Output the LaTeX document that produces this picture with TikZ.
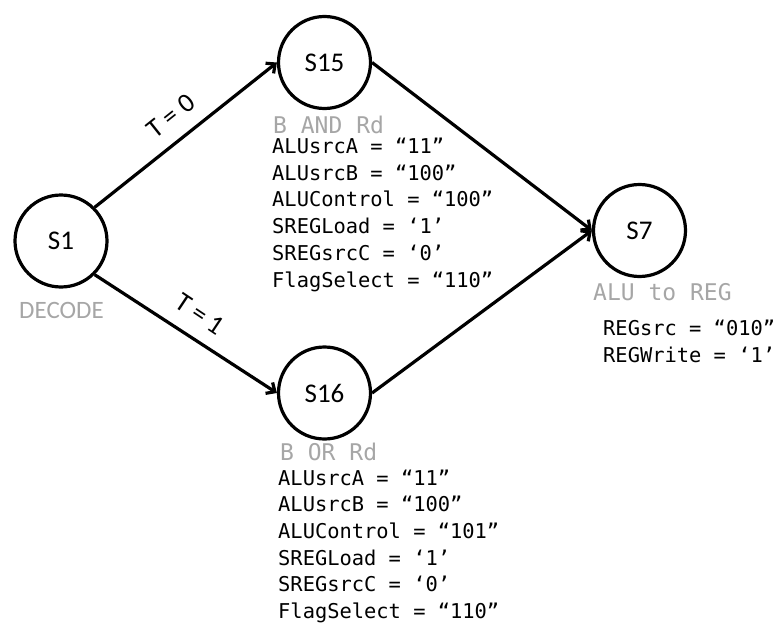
\documentclass[tikz,border=0pt]{standalone}
\usepackage{fontspec}
\setmainfont{Carlito}
\newfontfamily\monof{DejaVu Sans Mono}
\usetikzlibrary{arrows.meta}
\definecolor{lblgray}{HTML}{A6A6A6}
\begin{document}
\begin{tikzpicture}[x=1pt,y=-1pt,
  state/.style={circle,draw,line width=3.2pt,minimum size=92pt,inner sep=0pt,font=\fontsize{27}{27}\selectfont},
  conn/.style={line width=3.2pt,-{Straight Barb[length=7pt,width=13pt]}},
  codeline/.style={anchor=base west,inner sep=0pt,font=\monof\fontsize{20.4}{24}\selectfont},
  graylbl/.style={anchor=base west,inner sep=0pt,text=lblgray,font=\monof\fontsize{23}{26}\selectfont},
  edgelbl/.style={inner sep=0pt,anchor=center,font=\fontsize{27}{27}\selectfont}]
\useasboundingbox (0,0) rectangle (779,626);

\node[state] (s1) at (61,241) {S1};
\node[state] (s15) at (324.5,62.5) {S15};
\node[state] (s16) at (324.5,393) {S16};
\node[state] (s7) at (639.5,230.5) {S7};

\draw[conn] (s1.north east) -- (s15.west);
\draw[conn] (s1.south east) -- (s16.west);
\draw[conn] (s15.east) -- (s7.west);
\draw[conn] (s16.east) -- (s7.west);

\node[edgelbl,rotate=38.5] (l0) at (171,116) {T = 0};
\node[edgelbl,rotate=-33.7] (l1) at (200,314) {T = 1};

\node[anchor=base west,inner sep=0pt,text=lblgray,font=\fontsize{25}{25}\selectfont] (dec) at (19,318) {DECODE};
\node[graylbl] (g15) at (273,133.5) {B AND Rd};
\node[graylbl] (g16) at (280,460) {B OR Rd};
\node[graylbl] (g7) at (593,300) {ALU to REG};

\foreach \t [count=\i from 0] in {ALUsrcA = “11”, ALUsrcB = “100”, ALUControl = “100”, SREGLoad = ‘1’, SREGsrcC = ‘0’, FlagSelect = “110”}
  \node[codeline] (a\i) at (272,{153.5+26.7*\i}) {\t};
\foreach \t [count=\i from 0] in {ALUsrcA = “11”, ALUsrcB = “100”, ALUControl = “101”, SREGLoad = ‘1’, SREGsrcC = ‘0’, FlagSelect = “110”}
  \node[codeline] (b\i) at (278,{485+26.7*\i}) {\t};
\node[codeline] (c0) at (603,335.5) {REGsrc = “010”};
\node[codeline] (c1) at (603,362) {REGWrite = ‘1’};
\end{tikzpicture}
\end{document}
